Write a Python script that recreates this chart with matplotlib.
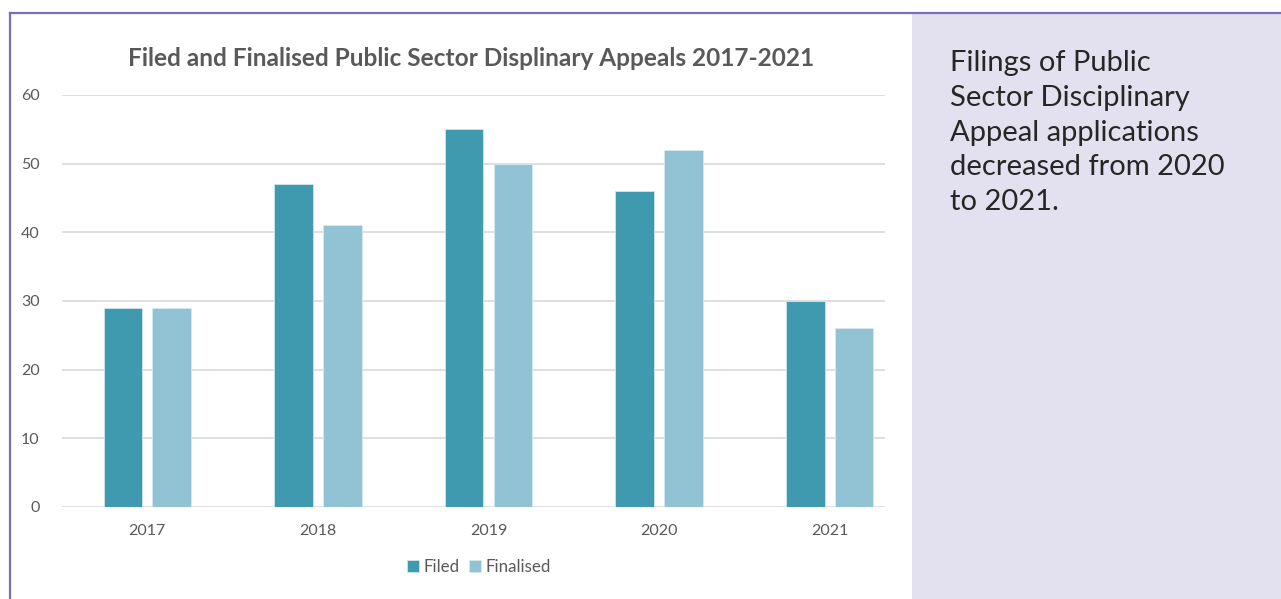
import matplotlib
matplotlib.use("Agg")
import matplotlib.pyplot as plt
from matplotlib.patches import Rectangle
from matplotlib.lines import Line2D
import numpy as np

years = ["2017", "2018", "2019", "2020", "2021"]
filed = [29, 47, 55, 46, 30]
finalised = [29, 41, 50, 52, 26]
series_names = ["Filed", "Finalised"]

title = "Filed and Finalised Public Sector Displinary Appeals 2017-2021"
note = "Filings of Public\nSector Disciplinary\nAppeal applications\ndecreased from 2020\nto 2021."

plt.rcParams['font.family'] = ['Lato', 'DejaVu Sans']

W, H = 1281, 599
fig = plt.figure(figsize=(W / 100, H / 100), dpi=100)

# side panel and frame
fig.add_artist(Rectangle((912 / W, 0), (W - 912) / W, (H - 14) / H,
                         transform=fig.transFigure, facecolor="#E3E1EF",
                         edgecolor="none", zorder=0))
fig.add_artist(Line2D([10 / W, 1], [(H - 13) / H] * 2, transform=fig.transFigure,
                      color="#7B6DBE", lw=1.6))
fig.add_artist(Line2D([10 / W] * 2, [0, (H - 13) / H], transform=fig.transFigure,
                      color="#7B6DBE", lw=1.6))

ax = fig.add_axes([62 / W, 92 / H, (885 - 62) / W, (507 - 95) / H])
x = np.arange(len(years))
w = 0.226
off = 0.143
ax.bar(x - off, filed, w, color="#3F9AAF", edgecolor="#CFE6EC", lw=0.6,
       label=series_names[0], zorder=3)
ax.bar(x + off, finalised, w, color="#92C3D4", edgecolor="#D6EAF0", lw=0.6,
       label=series_names[1], zorder=3)

ax.set_xlim(-0.5, 4.324)
ax.set_ylim(0, 60)
ax.set_yticks(range(0, 61, 10))
ax.set_xticks(x)
ax.set_xticklabels(years)
ax.grid(axis="y", color="#D9D9D9", lw=1.2, zorder=0)
for s in ax.spines.values():
    s.set_visible(False)
ax.tick_params(length=0, labelsize=11.5, labelcolor="#595959")
ax.tick_params(axis="y", pad=16)
ax.tick_params(axis="x", pad=12)

fig.text(471 / W, (H - 58) / H, title, ha="center", va="center",
         fontsize=17.6, fontweight="bold", color="#595959")

leg = fig.legend(loc="center", bbox_to_anchor=(479 / W, (H - 567) / H), ncol=2,
                 frameon=False, fontsize=12.2, handlelength=0.7, handleheight=0.7,
                 handletextpad=0.25, columnspacing=0.6)
for t in leg.get_texts():
    t.set_color("#595959")

fig.text(950 / W, (H - 50) / H, note, ha="left", va="top", fontsize=21,
         color="#262626", linespacing=1.42)

fig.savefig("out.png", dpi=100)
